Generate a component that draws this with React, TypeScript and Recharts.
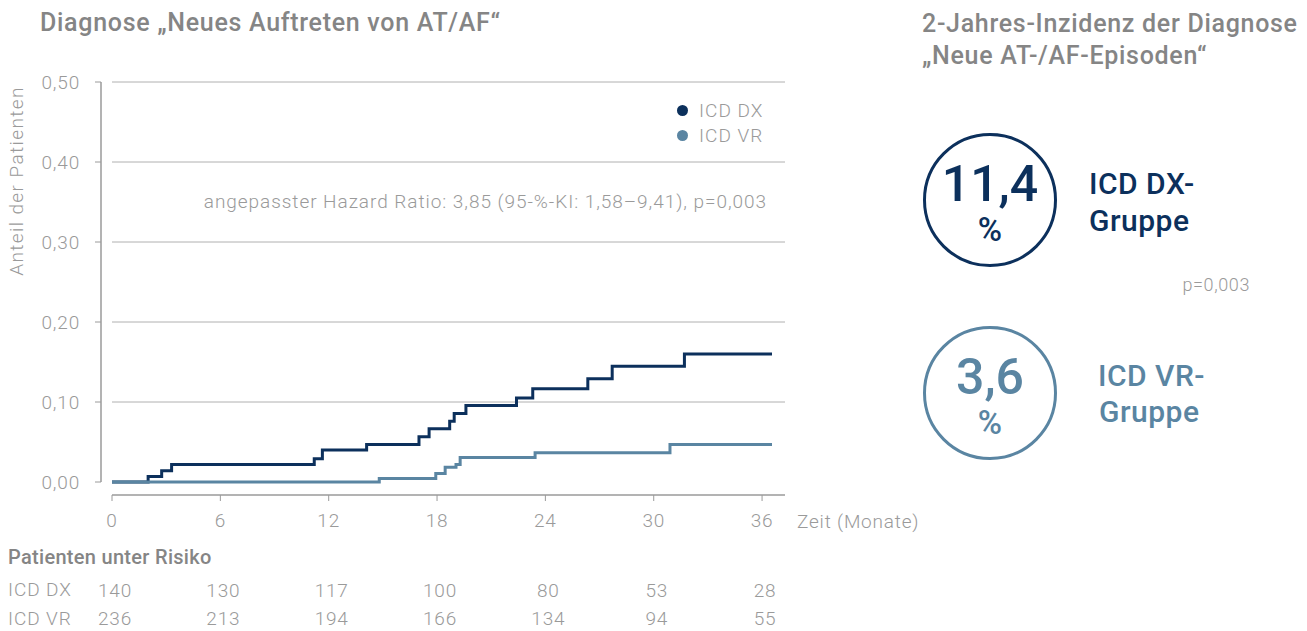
import React from "react";
import { LineChart, Line, XAxis, YAxis, ReferenceLine, Legend } from "recharts";

// Kaplan-Meier steps (months, share of patients)
const dxMonths = [0, 2.0, 2.75, 3.3, 11.2, 11.65, 14.1, 17.0, 17.56, 18.7, 18.95, 19.6, 22.4, 23.3, 26.35, 27.7, 31.7, 36.55];
const dxShare = [0, 0.007, 0.014, 0.022, 0.029, 0.04, 0.047, 0.0565, 0.0665, 0.076, 0.0856, 0.0956, 0.105, 0.1165, 0.129, 0.1448, 0.16, 0.16];
const vrMonths = [0, 14.8, 17.93, 18.45, 19.05, 19.28, 23.43, 30.9, 36.55];
const vrShare = [0, 0.0044, 0.0106, 0.0185, 0.022, 0.0306, 0.0365, 0.047, 0.047];

const monthTicks = [0, 6, 12, 18, 24, 30, 36];
const shareTicks = [0, 0.1, 0.2, 0.3, 0.4, 0.5];
const gridLevels = [0.1, 0.2, 0.3, 0.4, 0.5];
const riskDx = [140, 130, 117, 100, 80, 53, 28];
const riskVr = [236, 213, 194, 166, 134, 94, 55];

const X_MIN = -0.61;
const X_MAX = 37.27;
const Y_MIN = -0.01625;

const DARK = "#0c305c";
const LIGHT = "#5a85a2";
const TITLE = "#858585";
const SOFT = "#9a9a9a";
const FONT = "Roboto, 'Noto Sans', sans-serif";

const dxData = dxMonths.map((t, i) => ({ t, v: dxShare[i] }));
const vrData = vrMonths.map((t, i) => ({ t, v: vrShare[i] }));

const fmt = (v: number) => v.toFixed(2).replace(".", ",");

const thin = { fontFamily: FONT, fontWeight: 300, fontSize: 19, letterSpacing: 0.8, fill: SOFT };

function MonthTick(props: any) {
  const { x, y, payload, index } = props;
  return (
    <g>
      <text x={x} y={y} dy={26} textAnchor="middle" style={thin}>{payload.value}</text>
      <text x={x + 3} y={y} dy={96} textAnchor="middle" style={thin}>{riskDx[index]}</text>
      <text x={x + 3} y={y} dy={124} textAnchor="middle" style={thin}>{riskVr[index]}</text>
    </g>
  );
}

function LegendBox() {
  const items = [
    { name: "ICD DX", color: DARK },
    { name: "ICD VR", color: LIGHT },
  ];
  return (
    <div style={{ fontFamily: FONT, fontWeight: 300, fontSize: 19, color: SOFT }}>
      {items.map((it) => (
        <div key={it.name} style={{ display: "flex", alignItems: "center", height: 25 }}>
          <span style={{ width: 11, height: 11, borderRadius: "50%", background: it.color, marginRight: 11 }} />
          <span style={{ letterSpacing: 1 }}>{it.name}</span>
        </div>
      ))}
    </div>
  );
}

function T({ x, cy, size, weight = 400, color, children, align = "left", h, ls = 0 }: any) {
  const lh = h ?? Math.round(size * 1.2);
  const pos: any = align === "right" ? { right: 1307 - x } : align === "center" ? { left: x - 150, width: 300, textAlign: "center" } : { left: x };
  return (
    <div style={{ position: "absolute", top: cy - lh / 2, lineHeight: `${lh}px`, fontSize: size, fontWeight: weight, color, fontFamily: FONT, whiteSpace: "nowrap", letterSpacing: ls, ...pos }}>
      {children}
    </div>
  );
}

function Ring({ cx, cy, color }: any) {
  return (
    <div style={{ position: "absolute", left: cx - 67, top: cy - 67, width: 134, height: 134, borderRadius: "50%", border: `3px solid ${color}`, boxSizing: "border-box" }} />
  );
}

export default function App() {
  return (
    <div style={{ position: "fixed", left: 0, top: 0, width: 1307, height: 631, background: "#fff", overflow: "hidden" }}>
      <T x={40} cy={23} size={25} weight={500} color={TITLE} ls={0.7}>Diagnose „Neues Auftreten von AT/AF“</T>

      <div style={{ position: "absolute", left: 0, top: 0 }}>
        <LineChart width={800} height={631} margin={{ top: 82, right: 15, left: 0, bottom: 106 }}>
          <XAxis
            dataKey="t"
            type="number"
            domain={[X_MIN, X_MAX]}
            ticks={monthTicks}
            axisLine={false}
            tickLine={{ stroke: SOFT }}
            tickSize={6}
            tickMargin={0}
            height={30}
            allowDataOverflow
            tick={<MonthTick />}
          />
          <YAxis
            type="number"
            domain={[Y_MIN, 0.5]}
            ticks={shareTicks}
            tickFormatter={fmt}
            axisLine={false}
            tickLine={{ stroke: SOFT }}
            tickSize={6}
            tickMargin={15}
            width={101}
            allowDataOverflow
            tick={thin}
          />
          {gridLevels.map((y) => (
            <ReferenceLine key={y} segment={[{ x: 0, y }, { x: X_MAX, y }]} stroke="#b0b0b0" strokeWidth={1} ifOverflow="visible" />
          ))}
          <ReferenceLine segment={[{ x: X_MIN, y: 0 }, { x: X_MIN, y: 0.5 }]} stroke={SOFT} strokeWidth={1.5} ifOverflow="visible" />
          <ReferenceLine segment={[{ x: 0, y: Y_MIN }, { x: X_MAX, y: Y_MIN }]} stroke={SOFT} strokeWidth={1.5} ifOverflow="visible" />
          <Legend
            layout="horizontal"
            verticalAlign="middle"
            align="center"
            content={() => <LegendBox />}
            wrapperStyle={{ top: 98, left: 677, width: 120 }}
          />
          <Line data={dxData} dataKey="v" name="ICD DX" type="stepAfter" stroke={DARK} strokeWidth={3} dot={false} isAnimationActive={false} />
          <Line data={vrData} dataKey="v" name="ICD VR" type="stepAfter" stroke={LIGHT} strokeWidth={3} dot={false} isAnimationActive={false} />
        </LineChart>
      </div>

      <div style={{ position: "absolute", left: 17 - 120, top: 181 - 12, width: 240, height: 24, lineHeight: "24px", textAlign: "center", transform: "rotate(-90deg)", fontFamily: FONT, fontWeight: 300, fontSize: 19, letterSpacing: 1.4, color: SOFT, whiteSpace: "nowrap" }}>
        Anteil der Patienten
      </div>

      <T x={767} cy={201} size={19} weight={300} color={SOFT} align="right" ls={0.95}>angepasster Hazard Ratio: 3,85 (95-%-KI: 1,58–9,41), p=0,003</T>
      <T x={797} cy={521} size={19} weight={300} color={SOFT} ls={0.8}>Zeit (Monate)</T>

      <T x={8} cy={557} size={20} weight={500} color={TITLE} ls={0.3}>Patienten unter Risiko</T>
      <T x={8} cy={589} size={19} weight={300} color={SOFT} ls={0.9}>ICD DX</T>
      <T x={8} cy={618} size={19} weight={300} color={SOFT} ls={0.9}>ICD VR</T>

      <T x={922} cy={24} size={25} weight={500} color={TITLE} ls={0.7}>2-Jahres-Inzidenz der Diagnose</T>
      <T x={922} cy={56} size={25} weight={500} color={TITLE} ls={0.7}>„Neue AT-/AF-Episoden“</T>

      <Ring cx={990} cy={200} color={DARK} />
      <T x={990} cy={184} size={50} weight={500} color={DARK} align="center">11,4</T>
      <T x={990} cy={230} size={33} weight={500} color={DARK} align="center">%</T>
      <T x={1089} cy={184} size={30} weight={500} color={DARK} ls={0.5}>ICD DX-</T>
      <T x={1089} cy={221} size={30} weight={500} color={DARK} ls={0.5}>Gruppe</T>

      <T x={1250} cy={285} size={18} weight={300} color={SOFT} align="right" ls={0.6}>p=0,003</T>

      <Ring cx={990} cy={393} color={LIGHT} />
      <T x={990} cy={377} size={50} weight={500} color={LIGHT} align="center">3,6</T>
      <T x={990} cy={423} size={33} weight={500} color={LIGHT} align="center">%</T>
      <T x={1098} cy={376} size={30} weight={500} color={LIGHT} ls={0.5}>ICD VR-</T>
      <T x={1099} cy={412} size={30} weight={500} color={LIGHT} ls={0.5}>Gruppe</T>
    </div>
  );
}
